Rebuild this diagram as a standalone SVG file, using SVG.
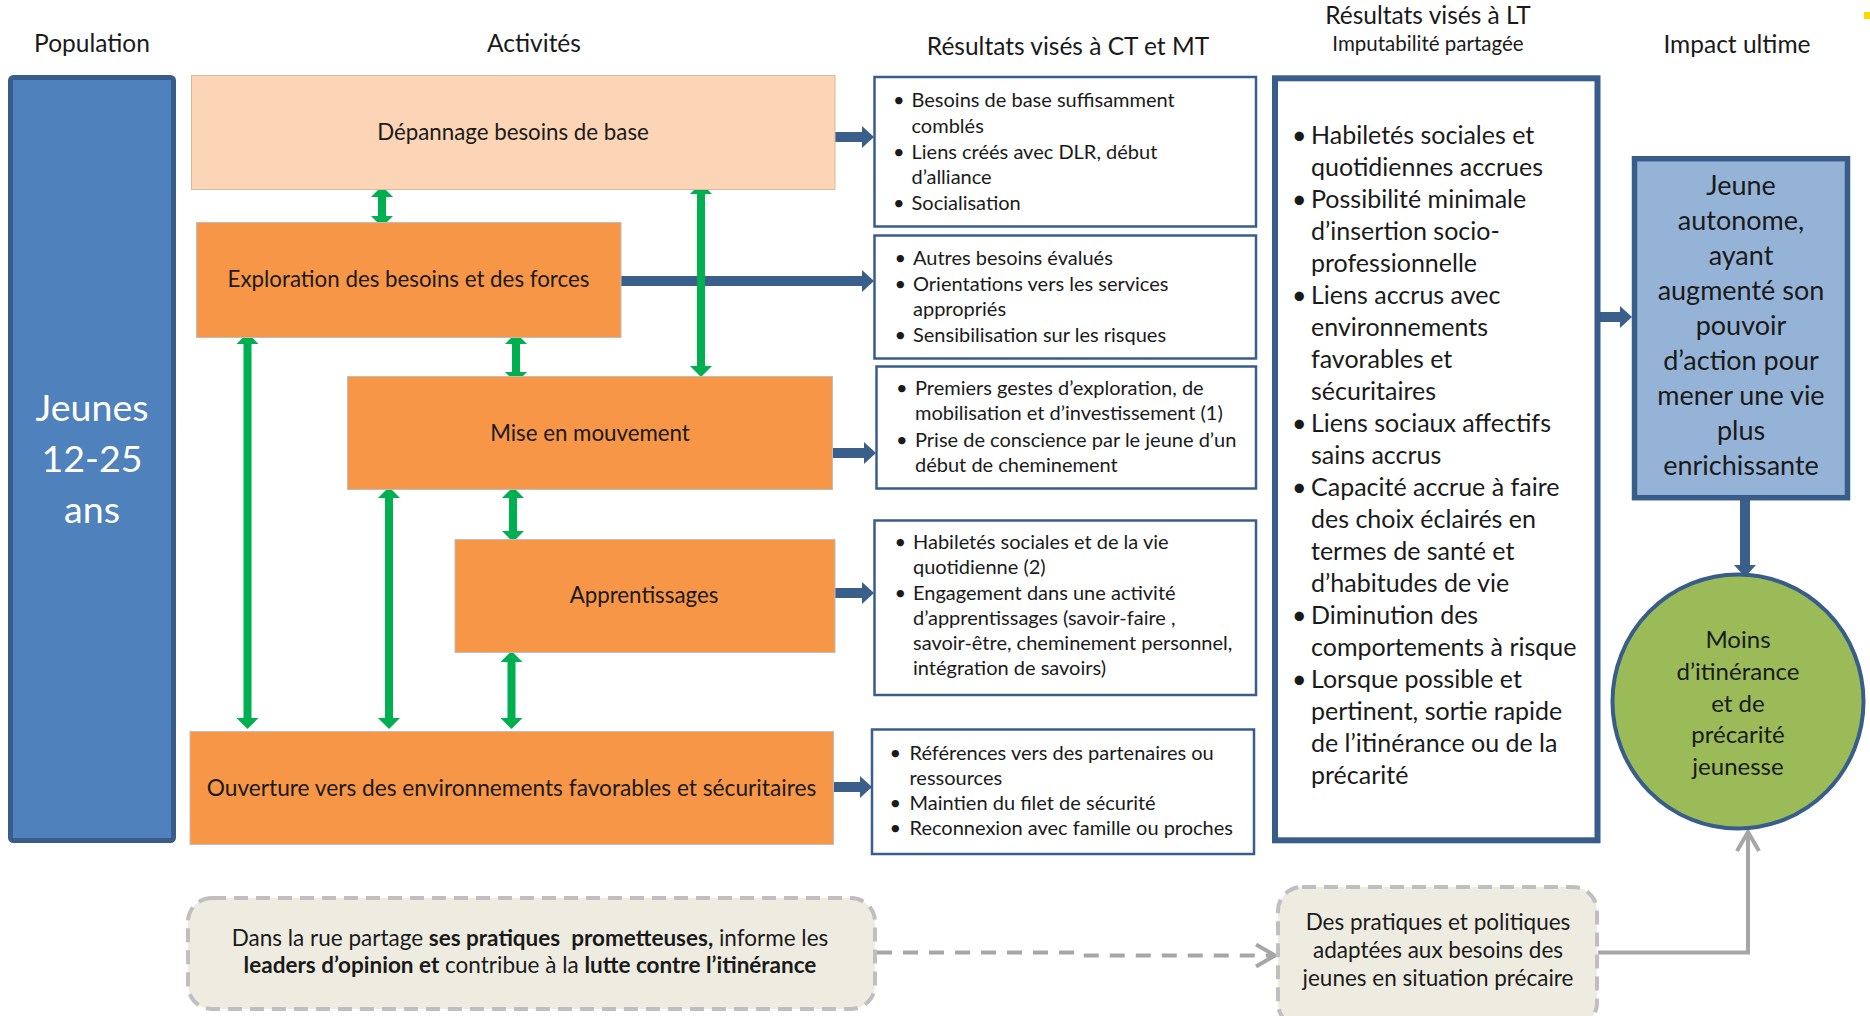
<svg xmlns="http://www.w3.org/2000/svg" width="1870" height="1016" viewBox="0 0 1870 1016">
<style>
text{font-family:Lato,"Liberation Sans",sans-serif;fill:#1a1a1a}
.h{font-size:24.5px;text-anchor:middle}
.sub{font-size:20.5px;text-anchor:middle}
.act{font-size:22.3px;text-anchor:middle}
.bl{font-size:20px}
.lt{font-size:25px}
.imp{font-size:27px;text-anchor:middle}
.cir{font-size:24px;text-anchor:middle}
.bot{font-size:22.5px;text-anchor:middle;white-space:pre}
.bold{font-weight:bold}
.res{fill:#fff;stroke:#385D8A;stroke-width:2.5}
.orange{fill:#F79646;stroke:#BDBDBD;stroke-width:1}
.green{stroke:#00B050;stroke-width:8;fill:none;marker-start:url(#gh);marker-end:url(#gh)}
.blue{stroke:#3A5F8B;stroke-width:10;fill:none;marker-end:url(#bh)}
.dash{fill:#EEECE1;stroke:#BFBFBF;stroke-width:4;stroke-dasharray:14 8}
</style>
<defs>
<marker id="gh" viewBox="0 0 11 22" refX="0" refY="11" markerWidth="11" markerHeight="22" markerUnits="userSpaceOnUse" orient="auto-start-reverse">
<path d="M0,0 L11,11 L0,22 Z" fill="#00B050"/>
</marker>
<marker id="bh" viewBox="0 0 12 22" refX="0" refY="11" markerWidth="12" markerHeight="22" markerUnits="userSpaceOnUse" orient="auto">
<path d="M0,0 L12,11 L0,22 Z" fill="#3A5F8B"/>
</marker>
<marker id="ch" viewBox="0 0 24 26" refX="21" refY="13" markerWidth="24" markerHeight="26" markerUnits="userSpaceOnUse" orient="auto">
<path d="M2,2 L21,13 L2,24" fill="none" stroke="#A6A6A6" stroke-width="4"/>
</marker>
</defs>

<rect x="1864" y="12" width="6" height="7" fill="#FFD700"/>

<g id="headers">
<text class="h" x="92" y="52">Population</text>
<text class="h" x="534" y="52">Activités</text>
<text class="h" x="1068" y="55">Résultats visés à CT et MT</text>
<text class="h" x="1428" y="24">Résultats visés à LT</text>
<text class="sub" x="1428" y="51">Imputabilité partagée</text>
<text class="h" x="1737" y="53">Impact ultime</text>
</g>

<g id="connectors">
<line class="blue" x1="835" y1="137" x2="862" y2="137"/>
<line class="blue" x1="621" y1="281" x2="862" y2="281"/>
<line class="blue" x1="832" y1="453" x2="864" y2="453"/>
<line class="blue" x1="835" y1="593" x2="862" y2="593"/>
<line class="blue" x1="833" y1="787" x2="860" y2="787"/>
<line class="blue" x1="1600" y1="317" x2="1620" y2="317"/>
<line class="blue" x1="1745" y1="500" x2="1745" y2="565"/>
<line class="green" x1="382" y1="197" x2="382" y2="216"/>
<line class="green" x1="701" y1="194" x2="701" y2="366"/>
<line class="green" x1="516" y1="344" x2="516" y2="372"/>
<line class="green" x1="247.5" y1="344" x2="247.5" y2="718"/>
<line class="green" x1="389" y1="498" x2="389" y2="718"/>
<line class="green" x1="513" y1="498" x2="513" y2="531"/>
<line class="green" x1="511.5" y1="662" x2="511.5" y2="718"/>
<polyline points="877,952.5 1080,952.5 1083,955.5 1275,955.5" fill="none" stroke="#A6A6A6" stroke-width="4" stroke-dasharray="15 11" marker-end="url(#ch)"/>
<polyline points="1598,952.5 1748,952.5 1748,832" fill="none" stroke="#A6A6A6" stroke-width="4" marker-end="url(#ch)"/>
</g>

<g id="population">
<rect x="10.5" y="77.5" width="163" height="763" rx="3" fill="#4F81BD" stroke="#385D8A" stroke-width="5"/>
<text x="92" y="421" style="font-size:37.5px;fill:#fff;text-anchor:middle">Jeunes</text>
<text x="92" y="472" style="font-size:37.5px;fill:#fff;text-anchor:middle">12-25</text>
<text x="92" y="523" style="font-size:37.5px;fill:#fff;text-anchor:middle">ans</text>
</g>

<g id="act-depannage">
<rect x="191.5" y="75.5" width="643.5" height="114" fill="#FBD5B5" stroke="#D9B99B" stroke-width="1"/>
<text class="act" x="513" y="140">Dépannage besoins de base</text>
</g>
<g id="act-exploration">
<rect class="orange" x="196.5" y="222.5" width="424.5" height="115"/>
<text class="act" x="408.5" y="287">Exploration des besoins et des forces</text>
</g>
<g id="act-mouvement">
<rect class="orange" x="347.5" y="376.5" width="485" height="113"/>
<text class="act" x="590" y="441">Mise en mouvement</text>
</g>
<g id="act-apprentissages">
<rect class="orange" x="455" y="539.5" width="380" height="113"/>
<text class="act" x="644" y="603">Apprentissages</text>
</g>
<g id="act-ouverture">
<rect class="orange" x="190" y="731.5" width="643.5" height="113"/>
<text class="act" x="511.5" y="796" style="font-size:22.7px">Ouverture vers des environnements favorables et sécuritaires</text>
</g>

<g id="res-1">
<rect class="res" x="874.5" y="77" width="381.5" height="149.5"/>
<text class="bl" x="893" y="107">•</text><text class="bl" x="911.5" y="107">Besoins de base suffisamment</text>
<text class="bl" x="911.5" y="133">comblés</text>
<text class="bl" x="893" y="159">•</text><text class="bl" x="911.5" y="159">Liens créés avec DLR, début</text>
<text class="bl" x="911.5" y="184">d’alliance</text>
<text class="bl" x="893" y="210">•</text><text class="bl" x="911.5" y="210">Socialisation</text>
</g>
<g id="res-2">
<rect class="res" x="874.5" y="235.5" width="381.5" height="123"/>
<text class="bl" x="894.5" y="265">•</text><text class="bl" x="913" y="265">Autres besoins évalués</text>
<text class="bl" x="894.5" y="291">•</text><text class="bl" x="913" y="291">Orientations vers les services</text>
<text class="bl" x="913" y="316">appropriés</text>
<text class="bl" x="894.5" y="342">•</text><text class="bl" x="913" y="342">Sensibilisation sur les risques</text>
</g>
<g id="res-3">
<rect class="res" x="876.5" y="366.5" width="379.5" height="122"/>
<text class="bl" x="896" y="395">•</text><text class="bl" x="915" y="395">Premiers gestes d’exploration, de</text>
<text class="bl" x="915" y="420">mobilisation et d’investissement (1)</text>
<text class="bl" x="896" y="446.5">•</text><text class="bl" x="915" y="446.5">Prise de conscience par le jeune d’un</text>
<text class="bl" x="915" y="471.5">début de cheminement</text>
</g>
<g id="res-4">
<rect class="res" x="874.5" y="520.5" width="381.5" height="174.5"/>
<text class="bl" x="894.5" y="548.5">•</text><text class="bl" x="913" y="548.5">Habiletés sociales et de la vie</text>
<text class="bl" x="913" y="573.5">quotidienne (2)</text>
<text class="bl" x="894.5" y="599.5">•</text><text class="bl" x="913" y="599.5">Engagement dans une activité</text>
<text class="bl" x="913" y="625">d’apprentissages (savoir-faire ,</text>
<text class="bl" x="913" y="650">savoir-être, cheminement personnel,</text>
<text class="bl" x="913" y="675">intégration de savoirs)</text>
</g>
<g id="res-5">
<rect class="res" x="872" y="729.5" width="382" height="124.5"/>
<text class="bl" x="889.5" y="759.5">•</text><text class="bl" x="909.5" y="759.5">Références vers des partenaires ou</text>
<text class="bl" x="909.5" y="784.5">ressources</text>
<text class="bl" x="889.5" y="810">•</text><text class="bl" x="909.5" y="810">Maintien du filet de sécurité</text>
<text class="bl" x="889.5" y="835">•</text><text class="bl" x="909.5" y="835">Reconnexion avec famille ou proches</text>
</g>

<g id="res-lt">
<rect x="1275" y="78.3" width="322.5" height="762" fill="#fff" stroke="#385D8A" stroke-width="6"/>
<text class="lt" x="1292" y="144">•</text><text class="lt" x="1311" y="144">Habiletés sociales et</text>
<text class="lt" x="1311" y="176">quotidiennes accrues</text>
<text class="lt" x="1292" y="208">•</text><text class="lt" x="1311" y="208">Possibilité minimale</text>
<text class="lt" x="1311" y="240">d’insertion socio-</text>
<text class="lt" x="1311" y="272">professionnelle</text>
<text class="lt" x="1292" y="304">•</text><text class="lt" x="1311" y="304">Liens accrus avec</text>
<text class="lt" x="1311" y="336">environnements</text>
<text class="lt" x="1311" y="368">favorables et</text>
<text class="lt" x="1311" y="400">sécuritaires</text>
<text class="lt" x="1292" y="432">•</text><text class="lt" x="1311" y="432">Liens sociaux affectifs</text>
<text class="lt" x="1311" y="464">sains accrus</text>
<text class="lt" x="1292" y="496">•</text><text class="lt" x="1311" y="496">Capacité accrue à faire</text>
<text class="lt" x="1311" y="528">des choix éclairés en</text>
<text class="lt" x="1311" y="560">termes de santé et</text>
<text class="lt" x="1311" y="592">d’habitudes de vie</text>
<text class="lt" x="1292" y="624">•</text><text class="lt" x="1311" y="624">Diminution des</text>
<text class="lt" x="1311" y="656">comportements à risque</text>
<text class="lt" x="1292" y="688">•</text><text class="lt" x="1311" y="688">Lorsque possible et</text>
<text class="lt" x="1311" y="720">pertinent, sortie rapide</text>
<text class="lt" x="1311" y="752">de l’itinérance ou de la</text>
<text class="lt" x="1311" y="784">précarité</text>
</g>

<g id="impact">
<rect x="1634.5" y="158.7" width="213" height="339" fill="#95B3D7" stroke="#385D8A" stroke-width="5.5"/>
<text class="imp" x="1741" y="195">Jeune</text>
<text class="imp" x="1741" y="230">autonome,</text>
<text class="imp" x="1741" y="265">ayant</text>
<text class="imp" x="1741" y="300">augmenté son</text>
<text class="imp" x="1741" y="335">pouvoir</text>
<text class="imp" x="1741" y="370">d’action pour</text>
<text class="imp" x="1741" y="405">mener une vie</text>
<text class="imp" x="1741" y="440">plus</text>
<text class="imp" x="1741" y="475">enrichissante</text>
</g>

<g id="moins-itinerance">
<ellipse cx="1738" cy="701.5" rx="125.5" ry="127" fill="#9BBB59" stroke="#385D8A" stroke-width="4"/>
<text class="cir" x="1738" y="648">Moins</text>
<text class="cir" x="1738" y="680">d’itinérance</text>
<text class="cir" x="1738" y="712">et de</text>
<text class="cir" x="1738" y="743">précarité</text>
<text class="cir" x="1738" y="775">jeunesse</text>
</g>

<g id="dans-la-rue">
<rect class="dash" x="188" y="898" width="687" height="111" rx="24"/>
<text class="bot" x="530" y="946">Dans la rue partage <tspan class="bold">ses pratiques  prometteuses,</tspan> informe les</text>
<text class="bot" x="530" y="973"><tspan class="bold">leaders d’opinion et</tspan> contribue à la <tspan class="bold">lutte contre l’itinérance</tspan></text>
</g>

<g id="pratiques-politiques">
<rect class="dash" x="1278" y="887" width="319" height="140" rx="24"/>
<text class="bot" x="1438" y="930">Des pratiques et politiques</text>
<text class="bot" x="1438" y="958">adaptées aux besoins des</text>
<text class="bot" x="1438" y="986">jeunes en situation précaire</text>
</g>
</svg>
